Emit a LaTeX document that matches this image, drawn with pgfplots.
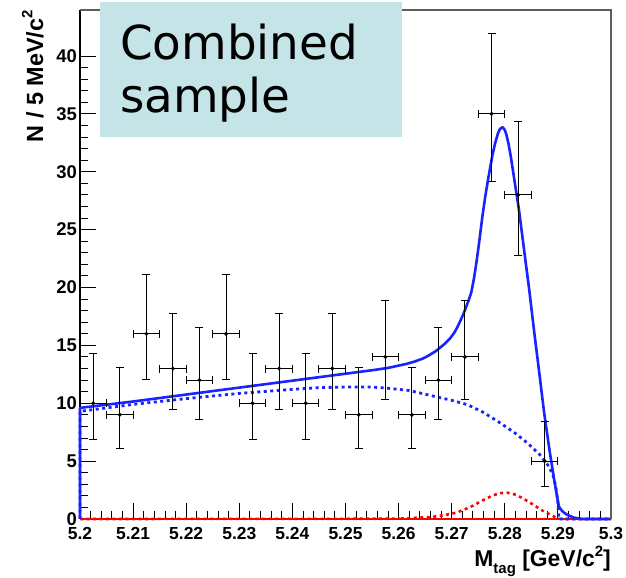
\documentclass[border=0pt]{standalone}
\usepackage{pgfplots}
\pgfplotsset{compat=1.18}
\usepackage{fontspec}
\setmainfont{Liberation Sans}
\newfontfamily\boxfont{DejaVu Sans}
\definecolor{boxbg}{RGB}{197,228,232}
\definecolor{rootblue}{RGB}{25,35,255}
\definecolor{framegray}{RGB}{100,90,90}
\begin{document}
\begin{tikzpicture}
\useasboundingbox (-80bp,-59bp) rectangle (546bp,519bp);
\begin{axis}[
  at={(0,0)}, anchor=south west, scale only axis,
  width=531bp, height=509bp,
  xmin=5.2, xmax=5.3, ymin=0, ymax=43.97,
  axis lines*=left,
  axis line style={line width=1.2bp, black},
  clip=false,
  xtick={5.2,5.21,5.22,5.23,5.24,5.25,5.26,5.27,5.28,5.29,5.3},
  xticklabels={5.2,5.21,5.22,5.23,5.24,5.25,5.26,5.27,5.28,5.29,5.3},
  ytick={0,5,10,15,20,25,30,35,40},
  yticklabels={0,5,10,15,20,25,30,35,40},
  minor x tick num=4, minor y tick num=4,
  major tick length=16bp, minor tick length=8bp,
  tick align=inside,
  every tick/.style={black, line width=0.9bp},
  xticklabel style={font=\bfseries\fontsize{17.5}{17.5}\selectfont, anchor=north, inner sep=0pt, yshift=-8bp},
  yticklabel style={font=\bfseries\fontsize{18.5}{18.5}\selectfont, anchor=east, inner sep=0pt, xshift=-3bp},
]
% red solid baseline component
\addplot[red, line width=1.5bp] coordinates {(5.2,0) (5.3,0)};
% red dotted peaking component
\addplot[red, line width=2.6bp, dash pattern=on 3bp off 3.5bp, smooth] coordinates {
(5.2,0) (5.255,0.02) (5.26,0.05) (5.263,0.1) (5.2667,0.2) (5.2704,0.5) (5.272,0.75)
(5.274,1.15) (5.276,1.65) (5.278,2.07) (5.28,2.28) (5.282,2.1) (5.284,1.62)
(5.2855,1.2) (5.287,0.75) (5.2881,0.48) (5.289,0.28) (5.2899,0.08) (5.291,0) (5.3,0)};
% blue dotted background
\addplot[rootblue, line width=2.8bp, dash pattern=on 3bp off 3.5bp, line join=round] coordinates {
(5.2,0) (5.2,9.3) (5.21,9.9) (5.22,10.4) (5.23,10.85) (5.24,11.2) (5.245,11.35)
(5.25,11.4) (5.255,11.4) (5.2579,11.3) (5.262,11.1) (5.2667,10.6) (5.27,10.25)
(5.273,9.87) (5.276,9.2) (5.2792,8.28) (5.282,7.4) (5.2843,6.55) (5.2865,5.6)
(5.2881,4.67) (5.289,3.9) (5.2896,2.8) (5.2899,1.8) (5.2901,0.8) (5.2902,0) (5.3,0)};
% blue solid total
\addplot[rootblue, line width=2.6bp, line join=round] coordinates {
(5.2,0) (5.2,9.6) (5.21,10.15) (5.22,10.75) (5.23,11.35) (5.24,11.95) (5.245,12.25)
(5.25,12.55) (5.255,12.85) (5.258,13.05) (5.26,13.25) (5.2615,13.4) (5.263,13.6)
(5.2645,13.85) (5.2654,14.05) (5.267,14.5) (5.2686,15.1) (5.2696,15.55) (5.2705,16.1)
(5.2711,16.6) (5.2717,17.2) (5.2722,17.7) (5.2727,18.3) (5.2732,18.9) (5.2737,19.6)
(5.2742,20.8) (5.2747,22.3) (5.2752,24.0) (5.2758,26.2) (5.2763,27.8) (5.2768,29.2)
(5.2773,30.5) (5.2777,31.5) (5.2782,32.5) (5.2787,33.3) (5.2791,33.7) (5.2796,33.85)
(5.2800,33.6) (5.2803,33.2) (5.2807,32.4) (5.2811,31.4) (5.2815,30.2) (5.2819,29.0)
(5.2823,27.8) (5.2827,26.6) (5.2837,23.0) (5.2846,19.8) (5.2855,16.3) (5.2865,12.6)
(5.2874,9.2) (5.2884,6.0) (5.2893,3.4) (5.2899,1.8) (5.2902,1.07) (5.2906,0.8)
(5.291,0.6) (5.2918,0.35) (5.293,0.12) (5.2945,0) (5.3,0)};
% data points with Poisson errors
\addplot[black, only marks, mark=*, mark size=1.8bp,
  error bars/.cd, x dir=both, x explicit, y dir=both, y explicit,
  error bar style={line width=1bp, black},
  error mark options={rotate=90, mark size=4bp, line width=1bp, black}]
  table[x=x, y=y, x error=ex, y error plus=ep, y error minus=em] {
x       y   ex      ep    em
5.2025  10  0.0025  4.26  3.11
5.2075  9   0.0025  4.11  2.94
5.2125  16  0.0025  5.10  3.95
5.2175  13  0.0025  4.71  3.55
5.2225  12  0.0025  4.57  3.41
5.2275  16  0.0025  5.10  3.95
5.2325  10  0.0025  4.26  3.11
5.2375  13  0.0025  4.71  3.55
5.2425  10  0.0025  4.26  3.11
5.2475  13  0.0025  4.71  3.55
5.2525  9   0.0025  4.11  2.94
5.2575  14  0.0025  4.84  3.69
5.2625  9   0.0025  4.11  2.94
5.2675  12  0.0025  4.57  3.41
5.2725  14  0.0025  4.84  3.69
5.2775  35  0.0025  6.97  5.88
5.2825  28  0.0025  6.35  5.26
5.2875  5   0.0025  3.38  2.16
};
\end{axis}
\draw[framegray, line width=1.5bp] (0,509bp) -- (531bp,509bp) -- (531bp,0);
\fill[boxbg] (20bp,382bp) rectangle (322bp,517bp);
\node[anchor=base west, inner sep=0pt, font=\boxfont\fontsize{47}{47}\selectfont] at (40bp,459bp) {Combined};
\node[anchor=base west, inner sep=0pt, font=\boxfont\fontsize{47}{47}\selectfont] at (40bp,406bp) {sample};
\node[rotate=90, anchor=base east, inner sep=0pt, font=\bfseries\fontsize{23.5}{23.5}\selectfont] at (-37bp,509bp) {N / 5 MeV/c\raisebox{0.45em}{\fontsize{15}{15}\selectfont 2}};
\node[anchor=base east, inner sep=0pt, font=\bfseries\fontsize{23}{23}\selectfont] at (531bp,-47.7bp) {M\raisebox{-0.3em}{\fontsize{15}{15}\selectfont tag} [GeV/c\raisebox{0.45em}{\fontsize{15}{15}\selectfont 2}]};
\end{tikzpicture}
\end{document}
